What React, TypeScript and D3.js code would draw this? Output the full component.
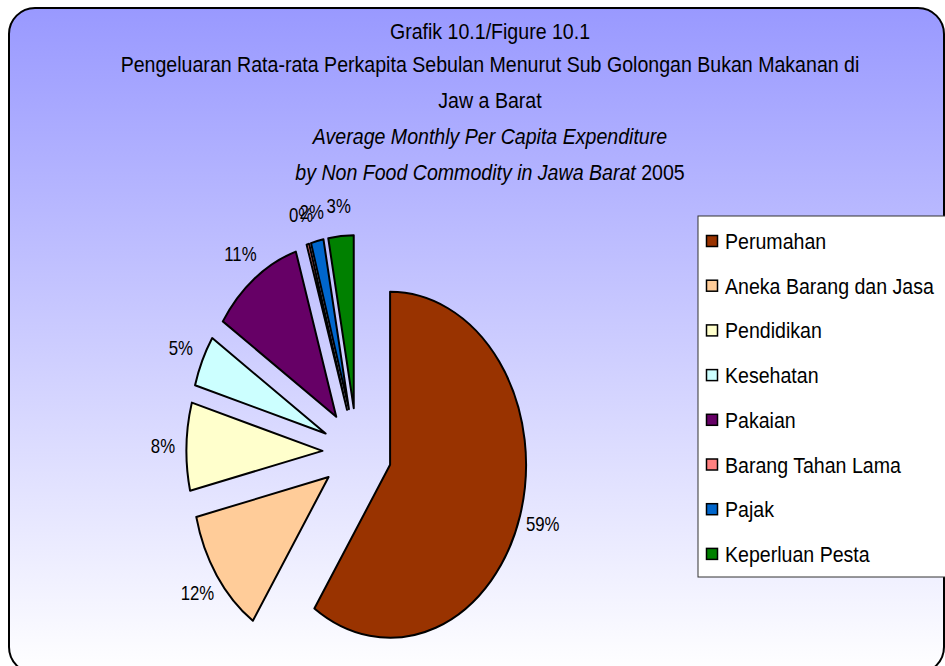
import { useEffect, useRef } from 'react';
import * as d3 from 'd3';

// Pengeluaran non-makanan Jawa Barat 2005 (persen)
const categories = [
  'Perumahan',
  'Aneka Barang dan Jasa',
  'Pendidikan',
  'Kesehatan',
  'Pakaian',
  'Barang Tahan Lama',
  'Pajak',
  'Keperluan Pesta',
];
const shares = [59.4, 11.9, 8.2, 4.8, 10.9, 0.3, 1.5, 3.0];
const colors = ['#993300', '#FFCC99', '#FFFFCC', '#CCFFFF', '#660066', '#FF8080', '#0066CC', '#008000'];

const titleLines = [
  'Grafik 10.1/Figure 10.1',
  'Pengeluaran Rata-rata Perkapita Sebulan Menurut Sub Golongan Bukan Makanan di',
  'Jaw a Barat',
];

const W = 945;
const H = 666;
const NARROW = 0.89; // the original text looks condensed

export default function App() {
  const svgRef = useRef<SVGSVGElement>(null);

  useEffect(() => {
    if (!svgRef.current) return;
    const svg = d3.select(svgRef.current);
    svg.selectAll('*').remove();
    svg.attr('width', W).attr('height', H).style('font-family', '"Liberation Sans", Arial, sans-serif');

    // background gradient
    const defs = svg.append('defs');
    const grad = defs.append('linearGradient')
      .attr('id', 'bg')
      .attr('x1', 0).attr('y1', 0).attr('x2', 0).attr('y2', 1);
    grad.append('stop').attr('offset', '0%').attr('stop-color', '#9999FF');
    grad.append('stop').attr('offset', '100%').attr('stop-color', '#FFFFFF');

    svg.append('rect')
      .attr('x', 9).attr('y', 8)
      .attr('width', 935).attr('height', 665)
      .attr('rx', 26).attr('ry', 26)
      .attr('fill', 'url(#bg)')
      .attr('stroke', '#000')
      .attr('stroke-width', 2);

    // titles
    const tx = 490;
    const title = svg.append('g').attr('font-size', 22).attr('fill', '#000').attr('text-anchor', 'middle');
    const place = (y: number) => `translate(${tx},${y}) scale(${NARROW},1)`;
    const baselines = [39, 72, 108];
    titleLines.forEach((t, i) => {
      title.append('text').attr('transform', place(baselines[i])).text(t);
    });
    title.append('text')
      .attr('transform', place(144))
      .attr('font-style', 'italic')
      .text('Average Monthly Per Capita Expenditure');
    const last = title.append('text').attr('transform', place(180));
    last.append('tspan').attr('font-style', 'italic').text('by Non Food Commodity in Jawa Barat');
    last.append('tspan').text('\u00a02005');

    // exploded pie, squeezed horizontally
    const R = 173;
    const sx = 0.786;
    const explode = 44;
    const labelR = 247;
    const cx = 357;
    const cy = 452;

    const pie = d3.pie<number>().sort(null).value((d) => d);
    const arcs = pie(shares);
    const arc = d3.arc<d3.PieArcDatum<number>>().innerRadius(0).outerRadius(R);

    const g = svg.append('g').attr('transform', `translate(${cx},${cy}) scale(${sx},1)`);
    g.selectAll('path')
      .data(arcs)
      .join('path')
      .attr('transform', (d) => {
        const a = (d.startAngle + d.endAngle) / 2;
        return `translate(${Math.sin(a) * explode},${-Math.cos(a) * explode})`;
      })
      .attr('d', arc)
      .attr('fill', (_, i) => colors[i])
      .attr('stroke', '#000')
      .attr('stroke-width', 2)
      .attr('stroke-linejoin', 'round')
      .attr('vector-effect', 'non-scaling-stroke');

    // percentage labels
    svg.append('g')
      .attr('font-size', 20)
      .attr('text-anchor', 'middle')
      .attr('fill', '#000')
      .selectAll('text')
      .data(arcs)
      .join('text')
      .attr('transform', (d) => {
        const a = (d.startAngle + d.endAngle) / 2;
        const x = cx + Math.sin(a) * labelR * sx;
        const y = cy - Math.cos(a) * labelR;
        return `translate(${x},${y}) scale(0.84,1)`;
      })
      .attr('dy', '0.35em')
      .text((d) => `${Math.round(d.data)}%`);

    // legend
    const lx = 698;
    const ly = 216;
    const step = 44.7;
    const legend = svg.append('g');
    legend.append('rect')
      .attr('x', lx).attr('y', ly)
      .attr('width', 260).attr('height', 361)
      .attr('fill', '#fff')
      .attr('stroke', '#333')
      .attr('stroke-width', 1);
    const items = legend.selectAll('g.item')
      .data(categories)
      .join('g')
      .attr('class', 'item')
      .attr('transform', (_, i) => `translate(${lx}, ${ly + 25 + i * step})`);
    items.append('rect')
      .attr('x', 8.5).attr('y', -5.5)
      .attr('width', 11).attr('height', 11)
      .attr('fill', (_, i) => colors[i])
      .attr('stroke', '#000')
      .attr('stroke-width', 1.5);
    items.append('text')
      .attr('transform', `translate(27,8) scale(${NARROW},1)`)
      .attr('font-size', 22)
      .attr('fill', '#000')
      .text((d) => d);
  }, []);

  return (
    <div style={{ position: 'absolute', left: 0, top: 0, width: W, height: H, overflow: 'hidden' }}>
      <svg ref={svgRef} style={{ display: 'block' }}></svg>
    </div>
  );
}
